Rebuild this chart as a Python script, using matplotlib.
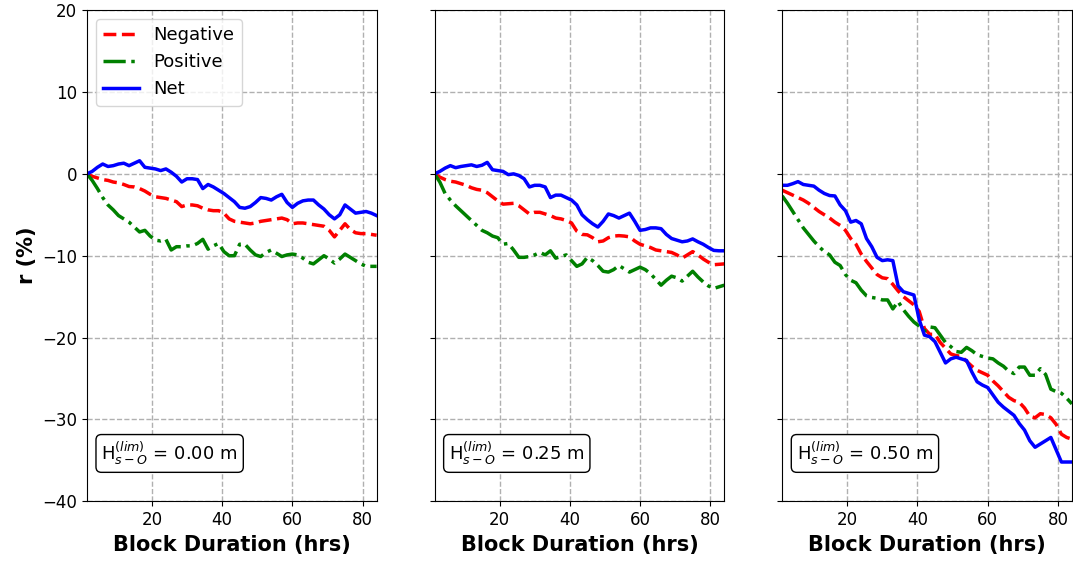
import numpy as np
import matplotlib
matplotlib.use("Agg")
import matplotlib.pyplot as plt

# block durations (hrs)
hours = np.arange(1, 57) * 1.5

h_lim = [0.00, 0.25, 0.50]

# panel 1 : Hs-O lim = 0.00 m
neg_0 = [0.0, -0.3, -0.5, -0.7, -0.8, -1.0, -1.1, -1.3, -1.55, -1.6, -1.8, -2.1, -2.5, -2.8,
         -2.9, -3.0, -3.2, -3.4, -4.0, -3.8, -3.8, -3.9, -4.2, -4.4, -4.5, -4.5, -4.8, -5.5,
         -5.8, -5.9, -6.0, -6.1, -6.0, -5.8, -5.7, -5.6, -5.5, -5.4, -5.6, -6.1, -6.0, -6.0,
         -6.1, -6.2, -6.3, -6.4, -6.9, -7.7, -6.9, -6.1, -6.8, -7.2, -7.3, -7.3, -7.4, -7.5]
pos_0 = [0.0, -0.8, -1.8, -2.9, -3.8, -4.4, -5.1, -5.5, -5.9, -6.5, -7.1, -6.9, -7.6, -8.1,
         -8.2, -8.0, -9.3, -8.9, -8.9, -8.8, -8.8, -8.5, -8.0, -9.2, -8.8, -8.5, -9.5, -10.0,
         -10.0, -8.6, -8.6, -9.3, -9.9, -10.1, -9.6, -9.3, -9.7, -10.1, -9.9, -9.8, -9.9, -10.3,
         -10.8, -11.0, -10.5, -10.0, -10.4, -10.9, -10.4, -9.8, -10.2, -10.6, -11.0, -11.3, -11.3, -11.3]
net_0 = [0.0, 0.3, 0.8, 1.2, 0.9, 1.0, 1.2, 1.3, 1.0, 1.3, 1.6, 0.8, 0.7, 0.6,
         0.4, 0.6, 0.2, -0.3, -1.0, -0.6, -0.6, -0.7, -1.8, -1.3, -1.6, -2.0, -2.4, -2.9,
         -3.4, -4.1, -4.2, -4.0, -3.5, -2.9, -3.0, -3.2, -2.8, -2.5, -3.5, -4.1, -3.6, -3.3,
         -3.2, -3.2, -3.8, -4.3, -5.0, -5.5, -5.0, -3.8, -4.3, -4.8, -4.7, -4.6, -4.8, -5.1]

# panel 2 : Hs-O lim = 0.25 m
neg_25 = [0.0, -0.4, -0.7, -0.9, -1.0, -1.2, -1.4, -1.7, -1.9, -2.0, -2.3, -2.8, -3.3, -3.7,
          -3.65, -3.6, -3.9, -4.4, -4.9, -4.7, -4.7, -4.9, -5.1, -5.4, -5.5, -5.7, -6.0, -7.0,
          -7.4, -7.45, -7.8, -8.3, -8.2, -7.8, -7.6, -7.55, -7.6, -7.7, -8.2, -8.6, -8.8, -9.0,
          -9.3, -9.4, -9.5, -9.6, -9.9, -10.3, -9.9, -9.5, -9.9, -10.4, -10.8, -11.1, -11.05, -11.0]
pos_25 = [0.0, -1.0, -2.4, -3.2, -3.9, -4.5, -5.1, -5.7, -6.3, -6.9, -7.2, -7.6, -7.8, -8.6,
          -8.5, -9.3, -10.2, -10.2, -10.1, -9.9, -9.6, -9.9, -9.4, -10.3, -10.1, -9.9, -10.6, -11.3,
          -11.0, -10.2, -10.6, -11.2, -11.9, -12.0, -11.7, -11.2, -11.6, -12.0, -11.7, -11.4, -11.7, -12.2,
          -12.9, -13.6, -13.0, -12.5, -12.7, -13.1, -12.5, -11.9, -12.6, -13.2, -13.7, -14.0, -13.8, -13.6]
net_25 = [0.0, 0.3, 0.7, 1.0, 0.75, 0.9, 1.0, 1.1, 0.9, 1.05, 1.4, 0.5, 0.4, 0.3,
          -0.1, 0.0, -0.2, -0.6, -1.6, -1.4, -1.4, -1.6, -2.9, -2.6, -2.6, -2.9, -3.2, -3.8,
          -5.0, -5.6, -6.1, -6.5, -5.8, -4.9, -5.1, -5.4, -5.1, -4.8, -5.8, -6.9, -6.8, -6.6,
          -6.6, -6.7, -7.4, -7.9, -8.1, -8.3, -8.2, -7.95, -8.3, -8.6, -9.0, -9.35, -9.4, -9.4]

# panel 3 : Hs-O lim = 0.50 m
neg_50 = [-2.0, -2.3, -2.6, -2.9, -3.2, -3.6, -4.1, -4.6, -5.0, -5.4, -5.9, -6.3, -6.9, -7.9,
          -8.6, -9.8, -10.7, -11.5, -12.3, -12.7, -12.8, -13.5, -14.3, -15.0, -15.5, -16.0, -16.8, -18.9,
          -19.6, -19.6, -20.6, -21.3, -22.0, -22.2, -22.3, -22.9, -23.5, -24.0, -24.3, -24.6, -25.3, -25.9,
          -26.6, -27.3, -27.7, -27.9, -28.6, -29.6, -29.8, -29.3, -29.4, -29.8, -30.6, -31.8, -32.2, -32.4]
pos_50 = [-2.7, -3.6, -4.6, -5.6, -6.6, -7.4, -8.2, -8.9, -9.5, -9.9, -10.8, -11.2, -12.3, -13.0,
          -13.3, -14.2, -14.9, -15.1, -15.2, -15.4, -15.4, -16.5, -15.6, -16.6, -17.4, -18.1, -18.6, -19.2,
          -18.7, -18.8, -19.7, -20.6, -21.1, -21.7, -21.8, -21.2, -21.6, -22.1, -22.3, -22.5, -22.6, -23.1,
          -23.5, -24.1, -24.4, -23.6, -23.6, -24.6, -24.6, -23.8, -24.5, -26.3, -26.6, -26.8, -27.4, -28.1]
net_50 = [-1.4, -1.4, -1.2, -0.95, -1.3, -1.4, -1.5, -2.0, -2.4, -2.65, -2.7, -3.8, -4.5, -5.9,
          -5.7, -6.1, -7.9, -8.9, -10.2, -10.6, -10.5, -10.6, -13.7, -14.4, -14.6, -14.8, -17.8, -19.7,
          -19.9, -20.5, -21.8, -23.1, -22.6, -22.4, -22.6, -22.8, -24.2, -25.4, -25.8, -26.1, -27.0, -27.9,
          -28.5, -29.0, -29.5, -30.5, -31.3, -32.6, -33.4, -33.0, -32.6, -32.2, -33.7, -35.2, -35.2, -35.2]

negs = [neg_0, neg_25, neg_50]
poss = [pos_0, pos_25, pos_50]
nets = [net_0, net_25, net_50]

fig, axs = plt.subplots(1, 3, figsize=(10.73, 5.62), dpi=100, sharey=True)
fig.subplots_adjust(left=0.081, right=0.999, top=0.982, bottom=0.108, wspace=0.2)

for i in range(3):
    ax = axs[i]
    ax.plot(hours, negs[i], '--', color='red', lw=2.5, label='Negative')
    ax.plot(hours, poss[i], '-.', color='green', lw=2.5, label='Positive')
    ax.plot(hours, nets[i], '-', color='blue', lw=2.5, label='Net')
    ax.set_xlim(1.5, 84)
    ax.set_ylim(-40, 20)
    ax.set_xticks([20, 40, 60, 80])
    ax.set_yticks([-40, -30, -20, -10, 0, 10, 20])
    ax.tick_params(labelsize=12)
    ax.grid(True, ls='--', color='#b0b0b0', lw=1)
    ax.set_xlabel('Block Duration (hrs)', fontsize=15, fontweight='bold')
    ax.text(0.05, 0.07, r'H$_{s-O}^{(lim)}$ = %.2f m' % h_lim[i], transform=ax.transAxes,
            fontsize=13, va='bottom', ha='left',
            bbox=dict(boxstyle='round', facecolor='white', edgecolor='black'))

axs[0].set_ylabel('r (%)', fontsize=15, fontweight='bold')
axs[0].legend(loc='upper left', fontsize=13)

plt.savefig('out.png', dpi=100)
